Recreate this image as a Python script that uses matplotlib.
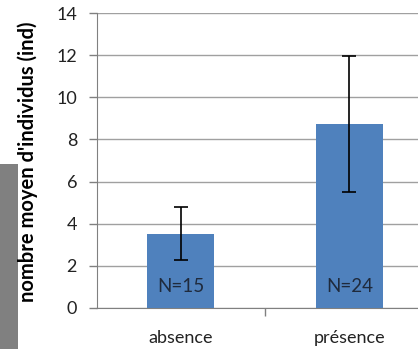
import matplotlib
matplotlib.use("Agg")
import matplotlib.pyplot as plt
from matplotlib.patches import Rectangle

categories = ["absence", "présence"]
means = [3.5, 8.73]
err_low = [2.28, 5.5]
err_high = [4.78, 11.97]
n_labels = ["N=15", "N=24"]
yticks = [0, 2, 4, 6, 8, 10, 12, 14]

plt.rcParams['font.family'] = ['Lato', 'DejaVu Sans']

fig = plt.figure(figsize=(4.18, 3.49), dpi=100)
fig.patches.append(Rectangle((0, 0), 18/418, 185/349, transform=fig.transFigure,
                             facecolor='#808080', edgecolor='none', zorder=-5))
ax = fig.add_axes([96.5/418, 1-308/349, 337/418, 295/349])

x = list(range(len(categories)))
lower = [m - l for m, l in zip(means, err_low)]
upper = [h - m for m, h in zip(means, err_high)]
ax.bar(x, means, width=0.4, color='#4F81BD', zorder=3)
ax.errorbar(x, means, yerr=[lower, upper], fmt='none', ecolor='black',
            elinewidth=1.2, capsize=5, capthick=1.2, zorder=4)
for xi, t in zip(x, n_labels):
    ax.text(xi, 1.0, t, ha='center', va='center', fontsize=13.5, color='#1f2a3c', zorder=5)

ax.set_xlim(-0.5, 1.5)
ax.set_ylim(0, 14)
ax.set_yticks(yticks)
ax.set_yticklabels([str(v) for v in yticks], fontsize=13, color='#222222')
ax.set_xticks(x)
ax.set_xticklabels(categories, fontsize=13, color='#222222')
ax.tick_params(axis='x', length=0, pad=16)
ax.set_xticks([0.5], minor=True)
ax.tick_params(axis='x', which='minor', length=6, color='#808080', width=1)
ax.tick_params(axis='y', length=6, color='#808080', width=1, pad=8)
ax.yaxis.grid(True, color='#a0a0a0', linewidth=1, zorder=0)
ax.set_axisbelow(True)
for s in ['top', 'right']:
    ax.spines[s].set_visible(False)
for s in ['left', 'bottom']:
    ax.spines[s].set_color('#808080')
ax.set_ylabel("nombre moyen d'individus (ind)", fontsize=14.5, fontweight='bold')
ax.yaxis.set_label_coords(-(96.5-38)/337, 0.495)

fig.savefig("out.png", dpi=100)
